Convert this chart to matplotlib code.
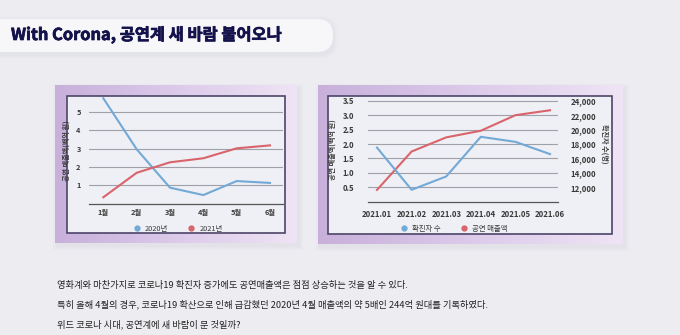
import matplotlib
matplotlib.use("Agg")
import matplotlib.pyplot as plt
import numpy as np
from matplotlib.patches import FancyBboxPatch, Rectangle
from matplotlib.lines import Line2D
from matplotlib.ticker import FuncFormatter
from matplotlib.colors import LinearSegmentedColormap
import matplotlib.patheffects as pe

plt.rcParams['font.family'] = ['Noto Sans CJK KR', 'DejaVu Sans']

# ---- data ----
months = ['1월', '2월', '3월', '4월', '5월', '6월']
sales_2020 = [5.73, 2.96, 0.87, 0.47, 1.23, 1.13]
sales_2021 = [0.35, 1.68, 2.25, 2.47, 3.01, 3.17]

periods = ['2021.01', '2021.02', '2021.03', '2021.04', '2021.05', '2021.06']
cases = [17500, 11650, 13500, 19000, 18300, 16600]
sales = [0.41, 1.74, 2.23, 2.46, 3.00, 3.17]

title = 'With Corona, 공연계 새 바람 불어오나'
body = ['영화계와 마찬가지로 코로나19 확진자 증가에도 공연매출액은 점점 상승하는 것을 알 수 있다.',
        '특히 올해 4월의 경우, 코로나19 확산으로 인해 급감했던 2020년 4월 매출액의 약 5배인 244억 원대를 기록하였다.',
        '위드 코로나 시대, 공연계에 새 바람이 분 것일까?']

BLUE = '#72a9d6'
RED = '#d9646b'
BG = '#ececf1'
TXT = '#3a3a3a'

W, H = 680, 335
fig = plt.figure(figsize=(W / 100, H / 100), dpi=100)
fig.patch.set_facecolor(BG)

bg = fig.add_axes([0, 0, 1, 1])
bg.set_xlim(0, W)
bg.set_ylim(H, 0)
bg.axis('off')
bg.set_zorder(0)

# title pill with soft shadow
for i in range(3):
    d = 1.5 * (i + 1)
    bg.add_patch(FancyBboxPatch((-30, 19 - d + 2), 363 + d, 33 + 2 * d,
                                boxstyle='round,pad=0,rounding_size=16',
                                fc='#b8b8c8', ec='none', alpha=0.05))
bg.add_patch(FancyBboxPatch((-30, 19), 363, 33, boxstyle='round,pad=0,rounding_size=16',
                            fc='#f7f7fa', ec='none'))
bg.text(11, 35, title, fontsize=11.8, fontweight='black', color='#14124a',
        va='center', ha='left',
        path_effects=[pe.withStroke(linewidth=0.5, foreground='#14124a')])


def panel(x0, x1, y0, y1, ix0, ix1, iy0, iy1):
    for i in range(3):
        d = 1.2 * (i + 1)
        bg.add_patch(Rectangle((x0 - d + 2, y0 - d + 3), (x1 - x0) + 2 * d, (y1 - y0) + 2 * d,
                               fc='#a89cb8', ec='none', alpha=0.04))
    grad = np.linspace(0, 1, 256)[None, :]
    cm = LinearSegmentedColormap.from_list('p', ['#c8b0da', '#dccaea', '#efe4f5'])
    bg.imshow(grad, extent=(x0, x1, y1, y0), cmap=cm, aspect='auto', zorder=1)
    bg.add_patch(Rectangle((ix0, iy0), ix1 - ix0, iy1 - iy0, fc='#eef0f5',
                           ec='#4d4568', lw=1.2, zorder=2))


panel(55, 297, 85, 243, 67, 285, 96, 233)
panel(318, 623, 85, 244, 328, 612, 96, 234)


def px_axes(l, r, top, bottom):
    return fig.add_axes([l / W, 1 - bottom / H, (r - l) / W, (bottom - top) / H])


# ---- left chart ----
ax1 = px_axes(89, 283, 97, 203.7)
ax1.set_zorder(3)
ax1.patch.set_alpha(0)
x = np.arange(len(months))
ax1.plot(x, sales_2020, color=BLUE, lw=1.5)
ax1.plot(x, sales_2021, color=RED, lw=1.5)
ax1.set_xlim(-0.43, 5.39)
ax1.set_ylim(0, 5.8)
ax1.set_yticks([1, 2, 3, 4, 5])
ax1.set_xticks(x)
ax1.set_xticklabels(months)
ax1.yaxis.grid(True, color='#a0a0a8', lw=0.8)
ax1.set_axisbelow(True)
for s in ['top', 'right', 'left']:
    ax1.spines[s].set_visible(False)
ax1.spines['bottom'].set_color('#555')
ax1.spines['bottom'].set_linewidth(0.9)
ax1.tick_params(length=0, labelsize=5.3, colors=TXT, pad=6)
ax1.tick_params(axis='x', pad=4)
for lab in ax1.get_xticklabels() + ax1.get_yticklabels():
    lab.set_fontweight('bold')
ax1.set_ylabel('공연 매출액(백억 원)', fontsize=5.1, color=TXT, fontweight='bold')
ax1.yaxis.set_label_coords(-0.1, 0.5)
fig.legend(handles=[Line2D([], [], ls='none', marker='o', ms=3.5, color=BLUE, label='2020년'),
                    Line2D([], [], ls='none', marker='o', ms=3.5, color=RED, label='2021년')],
           loc='center', bbox_to_anchor=(176 / W, 1 - 229 / H), ncol=2, frameon=False,
           fontsize=5.3, handletextpad=0.1, columnspacing=2.2, labelcolor=TXT)

# ---- right chart ----
ax2 = px_axes(368, 558, 97, 201.7)
ax2.set_zorder(3)
ax2.patch.set_alpha(0)
x2 = np.arange(len(periods))
ax2.plot(x2, sales, color=RED, lw=1.5)
ax2.set_xlim(-0.26, 5.23)
ax2.set_ylim(0, 3.63)
ax2.set_yticks([0.5, 1.0, 1.5, 2.0, 2.5, 3.0, 3.5])
ax2.yaxis.set_major_formatter(FuncFormatter(lambda v, p: f'{v:.1f}'))
ax2.set_xticks(x2)
ax2.set_xticklabels(periods)
ax2.yaxis.grid(True, color='#a0a0a8', lw=0.8)
ax2.set_axisbelow(True)
for s in ['top', 'right', 'left']:
    ax2.spines[s].set_visible(False)
ax2.spines['bottom'].set_color('#555')
ax2.spines['bottom'].set_linewidth(0.9)
ax2.tick_params(length=0, labelsize=5.6, colors=TXT, pad=10)
ax2.tick_params(axis='x', pad=6)
for lab in ax2.get_xticklabels() + ax2.get_yticklabels():
    lab.set_fontweight('bold')
ax2.set_ylabel('공연 매출액(백억 원)', fontsize=5.1, color=TXT, fontweight='bold')
ax2.yaxis.set_label_coords(-0.17, 0.5)

ax3 = ax2.twinx()
ax3.plot(x2, cases, color=BLUE, lw=1.5)
ax3.set_ylim(10000, 10000 + 3.63 * 4000)
ax3.set_yticks(range(12000, 24001, 2000))
ax3.yaxis.set_major_formatter(FuncFormatter(lambda v, p: f'{int(v):,}'))
for s in ['top', 'right', 'left', 'bottom']:
    ax3.spines[s].set_visible(False)
ax3.tick_params(length=0, labelsize=5.6, colors=TXT, pad=9)
for lab in ax3.get_yticklabels():
    lab.set_fontweight('bold')
ax3.set_ylabel('확진자 수(명)', fontsize=5.1, color=TXT, fontweight='bold', rotation=270)
ax3.yaxis.set_label_coords(1.265, 0.55)
fig.legend(handles=[Line2D([], [], ls='none', marker='o', ms=3.5, color=BLUE, label='확진자 수'),
                    Line2D([], [], ls='none', marker='o', ms=3.5, color=RED, label='공연 매출액')],
           loc='center', bbox_to_anchor=(452 / W, 1 - 229 / H), ncol=2, frameon=False,
           fontsize=5.3, handletextpad=0.1, columnspacing=2.2, labelcolor=TXT)

# ---- body text ----
for i, line in enumerate(body):
    bg.text(57, 285 + i * 19.5, line, fontsize=6.7, color='#222222', fontweight='medium',
            va='center', ha='left')

fig.savefig('out.png', dpi=100, facecolor=BG)
